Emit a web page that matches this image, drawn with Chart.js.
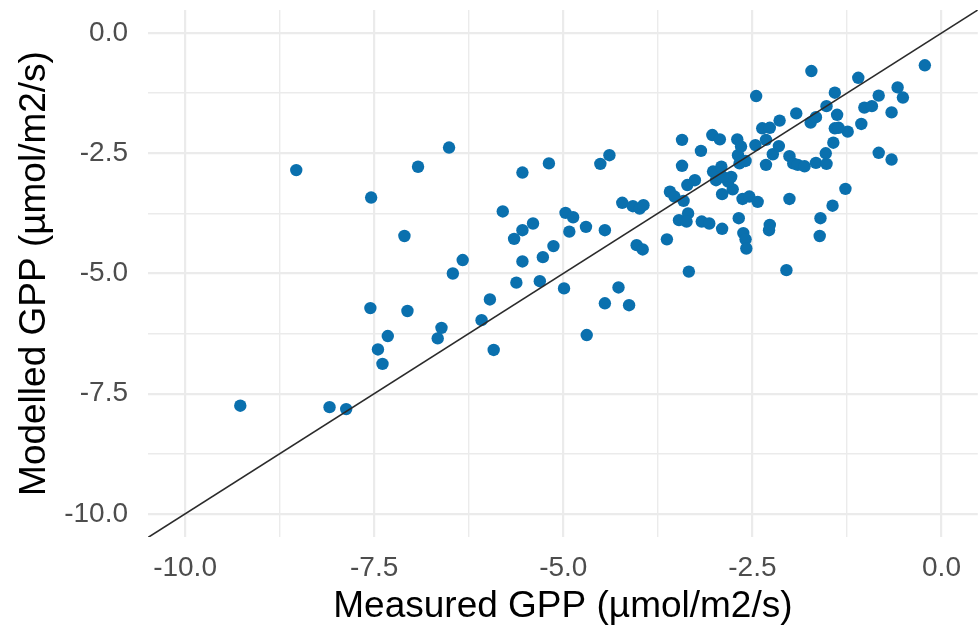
<!DOCTYPE html>
<html>
<head>
<meta charset="utf-8">
<script src="https://cdn.jsdelivr.net/npm/chart.js@4.4.1/dist/chart.umd.min.js"></script>
<style>
  html, body { margin: 0; padding: 0; background: #ffffff; overflow: hidden; }
  #gpp-scatter { display: block; }
</style>
</head>
<body>
<canvas id="gpp-scatter" width="984" height="629"></canvas>
<script>
// measured vs modelled GPP, one entry per site-day
const measured = [
    -9.27, -8.09, -7.87, -8.53, -6.51, -6.92, -7.54, -7.10, -7.55, -7.06,
    -7.32, -7.45, -7.39, -6.61, -6.66, -6.33, -6.46, -5.97, -6.08, -5.92,
    -5.80, -5.54, -5.19, -5.40, -5.54, -5.65, -5.13, -5.54, -5.27, -5.62,
    -5.31, -4.99, -4.27, -4.45, -4.13, -4.69, -3.34, -2.05, -4.39, -4.51,
    -4.97, -4.87, -4.70, -4.92, -4.45, -4.22, -4.08, -3.99, -3.94, -4.03,
    -3.95, -3.63, -3.59, -3.53, -3.41, -3.47, -3.35, -3.37, -3.17, -3.07,
    -2.90, -2.62, -2.59, -2.58, -2.27, -2.28, -2.68, -2.63, -2.54, -2.43,
    -2.01, -1.27, -1.44, -1.60, -1.61, -3.26, -3.36, -2.90, -2.76, -2.82,
    -2.78, -2.98, -2.89, -3.02, -2.91, -2.67, -2.59, -2.69, -3.43, -3.18,
    -3.43, -3.03, -2.93, -2.70, -2.65, -2.46, -2.32, -2.23, -2.15, -2.01,
    -1.96, -1.90, -1.81, -1.66, -1.52, -1.53, -1.43, -1.24, -1.41, -1.06,
    -2.37, -2.27, -2.14, -1.92, -1.73, -1.66, -1.38, -1.52, -1.02, -0.92,
    -0.66, -0.83, -0.58, -0.51, -1.41, -2.45, -1.10, -1.72, -0.22, -0.83,
    -0.66, -2.32, -1.36
];
const modelled = [
    -7.75, -7.78, -7.82, -2.85, -2.38, -2.78, -3.42, -4.22, -5.72, -5.78,
    -6.30, -6.58, -6.88, -6.13, -6.35, -4.72, -5.00, -5.54, -5.97, -6.59,
    -3.71, -2.90, -2.71, -3.96, -4.10, -4.28, -4.43, -4.75, -4.66, -5.19,
    -5.16, -5.31, -5.29, -5.62, -5.66, -6.28, -4.96, -4.93, -2.54, -2.72,
    -3.74, -3.83, -4.03, -4.13, -4.10, -3.53, -3.60, -3.65, -3.58, -4.41,
    -4.50, -4.29, -3.30, -3.40, -3.49, -3.89, -3.75, -3.92, -3.92, -3.96,
    -4.07, -4.16, -4.29, -4.48, -3.99, -4.10, -3.85, -3.45, -3.40, -3.51,
    -3.45, -3.24, -3.59, -3.85, -4.22, -3.06, -3.16, -3.35, -3.25, -3.09,
    -2.99, -3.06, -2.99, -2.88, -2.78, -2.71, -2.66, -2.54, -2.76, -2.45,
    -2.22, -2.12, -2.21, -2.21, -2.36, -2.33, -2.74, -2.52, -2.35, -2.56,
    -2.71, -2.74, -2.77, -2.70, -2.72, -2.50, -2.28, -2.05, -1.98, -1.89,
    -1.98, -1.97, -1.82, -1.67, -1.86, -1.75, -1.70, -1.52, -1.55, -1.52,
    -1.65, -1.30, -1.13, -1.34, -1.24, -1.31, -0.93, -0.79, -0.67, -2.49,
    -2.63, -2.22, -1.97
];

// 1:1 reference line
const oneToOne = [-11, 1];

// grid every 1.25, labels every 2.5
const gridTicks = [-10, -8.75, -7.5, -6.25, -5, -3.75, -2.5, -1.25, 0];
const labelTicks = [-10, -7.5, -5, -2.5, 0];

const xRange = [-10.49, 0.48];
const yRange = [-10.48, 0.48];

const points = measured.map((m, i) => ({ x: m, y: modelled[i] }));
const diag = oneToOne.map(v => ({ x: v, y: v }));

const tickFont = { family: "'Liberation Sans', Arial, sans-serif", size: 28 };
const titleFont = { family: "'Liberation Sans', Arial, sans-serif", size: 37 };

function setTicks(scale) {
    scale.ticks = gridTicks.map(v => ({ value: v }));
}
function tickLabel(value) {
    return labelTicks.some(t => Math.abs(t - value) < 1e-6) ? value.toFixed(1) : '';
}
function gridWidth(ctx) {
    const v = ctx.tick ? ctx.tick.value : 0;
    return labelTicks.some(t => Math.abs(t - v) < 1e-6) ? 2.2 : 1.4;
}
// keep tick labels from pushing the plot area inwards
function fixX(s) {
    s.height = 92;
    s.paddingLeft = 0;
    s.paddingRight = 0;
}
function fixY(s) {
    s.width = 148;
    s.paddingTop = 0;
    s.paddingBottom = 0;
}

const ctx = document.getElementById('gpp-scatter').getContext('2d');

new Chart(ctx, {
    type: 'scatter',
    data: {
        datasets: [
            {
                type: 'line',
                data: diag,
                borderColor: '#2b2b2b',
                borderWidth: 1.6,
                pointRadius: 0,
                fill: false,
                order: 0
            },
            {
                data: points,
                backgroundColor: '#0a70ae',
                borderWidth: 0,
                pointRadius: 6.2,
                pointHoverRadius: 6.2,
                order: 1
            }
        ]
    },
    options: {
        responsive: false,
        animation: false,
        devicePixelRatio: 1,
        layout: { padding: { top: 10, left: 0, right: 0, bottom: 0 } },
        plugins: {
            legend: { display: false },
            tooltip: { enabled: false }
        },
        scales: {
            x: {
                type: 'linear',
                min: xRange[0],
                max: xRange[1],
                afterBuildTicks: setTicks,
                afterFit: fixX,
                border: { display: false },
                grid: { color: '#ebebeb', lineWidth: gridWidth, drawTicks: false },
                ticks: { callback: tickLabel, font: tickFont, color: '#4d4d4d', padding: 14, maxRotation: 0, autoSkip: false },
                title: { display: true, text: 'Measured GPP (µmol/m2/s)', font: titleFont, color: '#000000', padding: { top: 1, bottom: 0 } }
            },
            y: {
                type: 'linear',
                min: yRange[0],
                max: yRange[1],
                afterBuildTicks: setTicks,
                afterFit: fixY,
                border: { display: false },
                grid: { color: '#ebebeb', lineWidth: gridWidth, drawTicks: false },
                ticks: { callback: tickLabel, font: tickFont, color: '#4d4d4d', padding: 20, autoSkip: false },
                title: { display: true, text: 'Modelled GPP (µmol/m2/s)', font: titleFont, color: '#000000', padding: { top: 13, bottom: 0 } }
            }
        }
    }
});
</script>
</body>
</html>
